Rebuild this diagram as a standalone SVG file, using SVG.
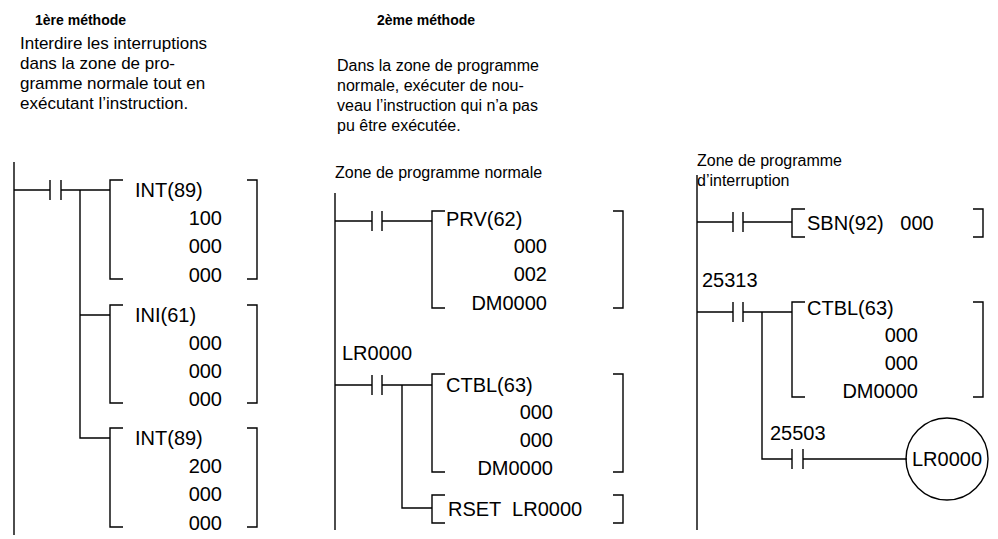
<svg xmlns="http://www.w3.org/2000/svg" width="998" height="539" viewBox="0 0 998 539">
<style>
text{font-family:"Liberation Sans",Arial,sans-serif;fill:#000}
.h{font-size:14px;font-weight:bold}
.t{font-size:16px}
.p{font-size:17px}
.d{font-size:20px}
.r{text-anchor:end}
line,path,circle{stroke:#000;stroke-width:1.4;fill:none}
</style>
<rect width="998" height="539" fill="#fff"/>
<text class="h" x="35" y="25">1ère méthode</text>
<text class="h" x="377" y="25">2ème méthode</text>
<text class="p" x="20" y="49">Interdire les interruptions</text>
<text class="p" x="20" y="69">dans la zone de pro-</text>
<text class="p" x="20" y="89">gramme normale tout en</text>
<text class="p" x="20" y="109">exécutant l’instruction.</text>
<text class="t" x="337" y="71">Dans la zone de programme</text>
<text class="t" x="337" y="91">normale, exécuter de nou-</text>
<text class="t" x="337" y="111">veau l’instruction qui n’a pas</text>
<text class="t" x="337" y="131">pu être exécutée.</text>
<text class="t" x="335" y="178">Zone de programme normale</text>
<text class="t" x="697" y="166">Zone de programme</text>
<text class="t" x="697" y="186">d’interruption</text>
<g id="connectors">
<line x1="14" y1="162" x2="14" y2="535"/>
<path d="M14 190H50M50 180V200M61 180V200M61 190H110M80 190V438H110M80 315H110"/>
<line x1="335" y1="193" x2="335" y2="530"/>
<path d="M335 221H372M372 211V231M382 211V231M382 221H432M335 385H372M372 375V395M382 375V395M382 385H432M402 385V508H432"/>
<line x1="697" y1="175" x2="697" y2="530"/>
<path d="M697 222H733M733 212V232M743 212V232M743 222H792M697 312H733M733 302V322M743 302V322M743 312H792M762 312V459H792M792 449V469M803 449V469M803 459H907"/>
</g>
<g id="int1"><path d="M123 180H110V279H123M247 180H257V279H247"/>
<text class="d" x="135" y="197">INT(89)</text><text class="d r" x="222" y="225">100</text><text class="d r" x="222" y="253">000</text><text class="d r" x="222" y="282">000</text></g>
<g id="ini"><path d="M123 305H110V403H123M247 305H257V403H247"/>
<text class="d" x="135" y="322">INI(61)</text><text class="d r" x="222" y="350">000</text><text class="d r" x="222" y="378">000</text><text class="d r" x="222" y="406">000</text></g>
<g id="int2"><path d="M123 428H110V527H123M247 428H257V527H247"/>
<text class="d" x="135" y="445">INT(89)</text><text class="d r" x="222" y="473">200</text><text class="d r" x="222" y="501">000</text><text class="d r" x="222" y="530">000</text></g>
<g id="prv"><path d="M445 211H432V308H445M613 211H623V308H613"/>
<text class="d" x="446" y="226">PRV(62)</text><text class="d r" x="547" y="253">000</text><text class="d r" x="547" y="281">002</text><text class="d r" x="547" y="310">DM0000</text></g>
<text class="d" x="342" y="360">LR0000</text>
<g id="ctbl1"><path d="M445 374H432V472H445M613 374H623V472H613"/>
<text class="d" x="446" y="392">CTBL(63)</text><text class="d r" x="553" y="419">000</text><text class="d r" x="553" y="447">000</text><text class="d r" x="553" y="475">DM0000</text></g>
<g id="rset"><path d="M445 495H432V523H445M613 495H623V523H613"/>
<text class="d" x="448" y="516" xml:space="preserve">RSET  LR0000</text></g>
<g id="sbn"><path d="M805 209H792V237H805M973 209H983V237H973"/>
<text class="d" x="807" y="230" xml:space="preserve">SBN(92)   000</text></g>
<text class="d" x="702" y="287">25313</text>
<g id="ctbl2"><path d="M805 302H792V397H805M973 302H983V397H973"/>
<text class="d" x="807" y="315">CTBL(63)</text><text class="d r" x="918" y="342">000</text><text class="d r" x="918" y="370">000</text><text class="d r" x="918" y="398">DM0000</text></g>
<text class="d" x="770" y="440">25503</text>
<g id="coil"><circle cx="947" cy="459" r="41"/><text class="d" x="947" y="466" text-anchor="middle" font-size="18">LR0000</text></g>
</svg>
